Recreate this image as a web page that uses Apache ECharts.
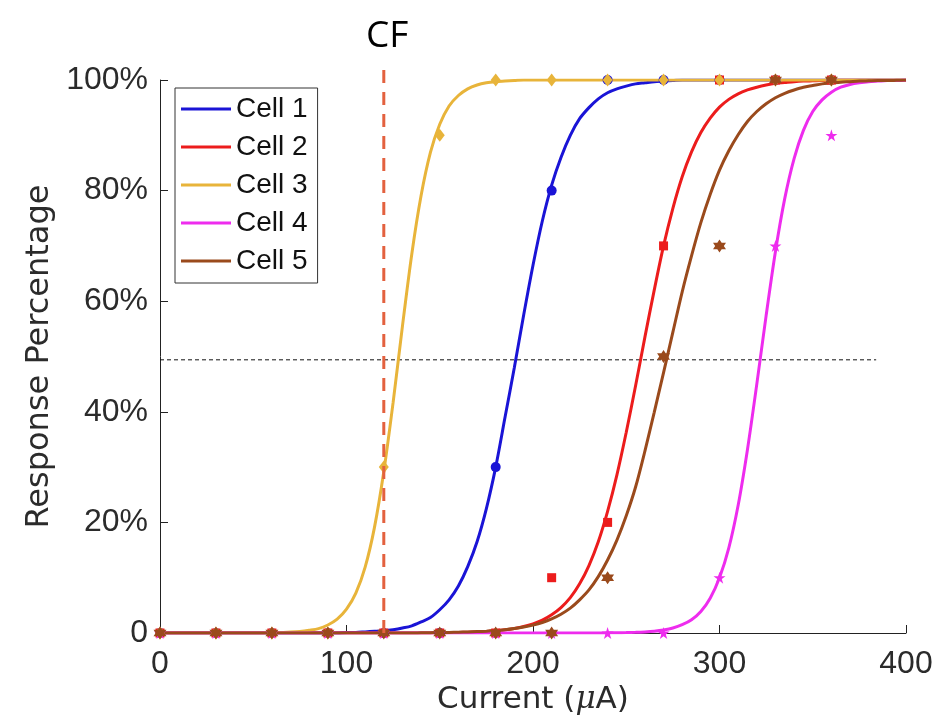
<!DOCTYPE html>
<html><head><meta charset="utf-8">
<script src="https://cdn.jsdelivr.net/npm/echarts@6/dist/echarts.min.js"></script>
<style>html,body{margin:0;padding:0;background:#fff}#c{width:938px;height:727px}</style>
</head><body><div id="c"></div>
<script>
// ---- data ----
const cellNames = ['Cell 1','Cell 2','Cell 3','Cell 4','Cell 5'];
const colors = ['#1a14d6','#ec1c1c','#e8b43a','#ee2cee','#9a4a1c'];
const sampleX = [0,30,60,90,120,150,180,210,240,270,300,330,360];
const cell1Pts = [0,0,0,0,0,0,30,80,100,100,100,100,100];
const cell2Pts = [0,0,0,0,0,0,0,10,20,70,100,100,100];
const cell3Pts = [0,0,0,0,30,90,100,100,100,100,100,100,100];
const cell4Pts = [0,0,0,0,0,0,0,0,0,0,10,70,90];
const cell5Pts = [0,0,0,0,0,0,0,0,10,50,70,100,100];

// fitted curves, read every 5 µA from 0 to 400
const fitX = [
  0,5,10,15,20,25,30,35,40,45,
  50,55,60,65,70,75,80,85,90,95,
  100,105,110,115,120,125,130,135,140,145,
  150,155,160,165,170,175,180,185,190,195,
  200,205,210,215,220,225,230,235,240,245,
  250,255,260,265,270,275,280,285,290,295,
  300,305,310,315,320,325,330,335,340,345,
  350,355,360,365,370,375,380,385,390,395,
  400];
const fit1Y = [
  0,0,0,0,0,0,0,0,0,0,
  0,0,0,0,0,0,0,0,0,0,
  0.1,0.1,0.2,0.3,0.4,0.6,0.9,1.3,2.0,2.8,
  4.2,6.0,8.5,12,16.5,22.5,30,39,48,57.5,
  66.5,74.5,81,86,90,93,95,96.6,97.7,98.4,
  98.9,99.3,99.5,99.7,99.8,99.9,100,100,100,100,
  100,100,100,100,100,100,100,100,100,100,
  100,100,100,100,100,100,100,100,100,100,
  100];
const fit2Y = [
  0,0,0,0,0,0,0,0,0,0,
  0,0,0,0,0,0,0,0,0,0,
  0,0,0,0,0,0,0,0,0,0,
  0.05,0.07,0.1,0.14,0.2,0.29,0.41,0.58,0.83,1.17,
  1.66,2.34,3.3,4.6,6.4,8.9,12.2,16.5,22,28.6,
  36.3,44.7,53.5,62,70,76.8,82.5,87,90.5,93.1,
  95.1,96.5,97.5,98.2,98.7,99.1,99.4,99.55,99.7,99.8,
  99.85,99.9,100,100,100,100,100,100,100,100,
  100];
const fit3Y = [
  0,0,0,0,0,0,0,0,0,0,
  0,0,0.05,0.1,0.16,0.28,0.5,0.8,1.45,2.5,
  4.3,7.2,11.9,19.1,29.2,41.7,55.5,68.5,79.1,86.9,
  92,95.3,97.2,98.4,99.1,99.5,99.7,99.8,99.9,100,
  100,100,100,100,100,100,100,100,100,100,
  100,100,100,100,100,100,100,100,100,100,
  100,100,100,100,100,100,100,100,100,100,
  100,100,100,100,100,100,100,100,100,100,
  100];
const fit4Y = [
  0,0,0,0,0,0,0,0,0,0,
  0,0,0,0,0,0,0,0,0,0,
  0,0,0,0,0,0,0,0,0,0,
  0,0,0,0,0,0,0,0,0,0,
  0,0,0,0,0,0,0,0,0.03,0.05,
  0.07,0.12,0.2,0.33,0.55,0.9,1.5,2.4,3.9,6.3,
  10,15.4,23.1,33.2,45,57.4,69,78.6,85.8,90.9,
  94.3,96.4,97.8,98.7,99.2,99.5,99.7,99.8,99.9,99.9,
  100];
const fit5Y = [
  0,0,0,0,0,0,0,0,0,0,
  0,0,0,0,0,0,0,0,0,0,
  0,0,0,0,0,0,0,0,0.04,0.06,
  0.08,0.1,0.14,0.18,0.25,0.33,0.44,0.59,0.8,1.07,
  1.43,1.9,2.55,3.4,4.5,6,7.8,10.2,13.2,16.8,
  21.2,26.4,32.9,39.9,47.1,54.4,61.7,68.2,74.2,79.3,
  83.7,87.2,90.1,92.5,94.3,95.7,96.8,97.6,98.2,98.7,
  99,99.3,99.45,99.6,99.7,99.8,99.85,99.9,99.9,99.95,
  100];

const cfX = 120;            // CF reference current
const cfTop = 103.3;        // dashed CF line extends above the axes
const halfLevel = 49.4;     // horizontal dashed reference
const halfEnd = 384;

// ---- build ----
const starPath = 'path://M50 0 L61.17 34.63 L97.55 34.55 L68.07 55.87 L79.39 90.45 L50 69 L20.61 90.45 L31.93 55.87 L2.45 34.55 L38.83 34.63 Z';
const hexPath = 'path://M50 0 L64.43 25 L93.3 25 L78.87 50 L93.3 75 L64.43 75 L50 100 L35.57 75 L6.7 75 L21.13 50 L6.7 25 L35.57 25 Z';
const symbols = ['circle','rect','diamond',starPath,hexPath];
const symSizes = [10,9,[10,13],12,13];
const pts = [cell1Pts,cell2Pts,cell3Pts,cell4Pts,cell5Pts];
const fitsY = [fit1Y,fit2Y,fit3Y,fit4Y,fit5Y];
const zip = (xs, ys) => xs.map((x,i)=>[x,ys[i]]);

const series = [];
cellNames.forEach((n,i)=>{
  series.push({
    name:n, type:'line', data: zip(fitX, fitsY[i]), symbol:'none',
    smooth:0.3,
    lineStyle:{color:colors[i], width:3}, itemStyle:{color:colors[i]}, z:2+i
  });
});
cellNames.forEach((n,i)=>{
  series.push({
    name:n+' pts', type:'scatter', data: zip(sampleX, pts[i]),
    symbol:symbols[i], symbolSize:symSizes[i],
    itemStyle:{color:colors[i], opacity:1}, z:10+i
  });
});
series.push({
  name:'CF', type:'line', data:[[cfX,0],[cfX,cfTop]], symbol:'none', clip:false,
  lineStyle:{color:'#e3613f', width:3, type:[13,9]}, z:20, silent:true
});
series.push({
  name:'half', type:'line', data:[[0,halfLevel],[halfEnd,halfLevel]], symbol:'none',
  lineStyle:{color:'#111', width:1, type:[4,3]}, z:1, silent:true
});

const chart = echarts.init(document.getElementById('c'));
const font = 'Liberation Sans';
const titleFont = 'DejaVu Sans';
const txt = '#2b2b2b';
chart.setOption({
  animation:false,
  backgroundColor:'#fff',
  grid:{left:160, right:32, top:80, bottom:94, containLabel:false},
  title:{text:'CF', left:361, top:13, textStyle:{fontFamily:'Open Sans', fontWeight:'normal', fontSize:37, color:'#000'}},
  legend:{
    data:cellNames, orient:'vertical', left:175, top:88,
    icon:'rect', itemWidth:50, itemHeight:3, itemGap:10,
    padding:[7,10,8,6], borderColor:'#333', borderWidth:1, backgroundColor:'#fff',
    textStyle:{fontFamily:font, fontSize:28, color:'#111'}
  },
  xAxis:{
    type:'value', min:0, max:400, interval:100,
    name:'Current ({mu|μ}A)', nameLocation:'middle', nameGap:49,
    nameTextStyle:{fontFamily:titleFont, fontSize:31, color:txt,
      rich:{mu:{fontFamily:'DejaVu Serif', fontStyle:'italic', fontSize:31, color:txt}}},
    axisLine:{lineStyle:{color:'#222', width:1}},
    axisTick:{inside:true, length:8, lineStyle:{color:'#222'}},
    axisLabel:{fontFamily:font, fontSize:32, color:txt, margin:15},
    splitLine:{show:false}
  },
  yAxis:{
    type:'value', min:0, max:100, interval:20,
    name:'Response Percentage', nameLocation:'middle', nameGap:103,
    nameTextStyle:{fontFamily:titleFont, fontSize:32, color:txt},
    axisLine:{lineStyle:{color:'#222', width:1}},
    axisTick:{inside:true, length:8, lineStyle:{color:'#222'}},
    axisLabel:{fontFamily:font, fontSize:32, color:txt, margin:12,
      formatter:v=> v===0 ? '0' : v+'%'},
    splitLine:{show:false}
  },
  series
});
</script></body></html>
